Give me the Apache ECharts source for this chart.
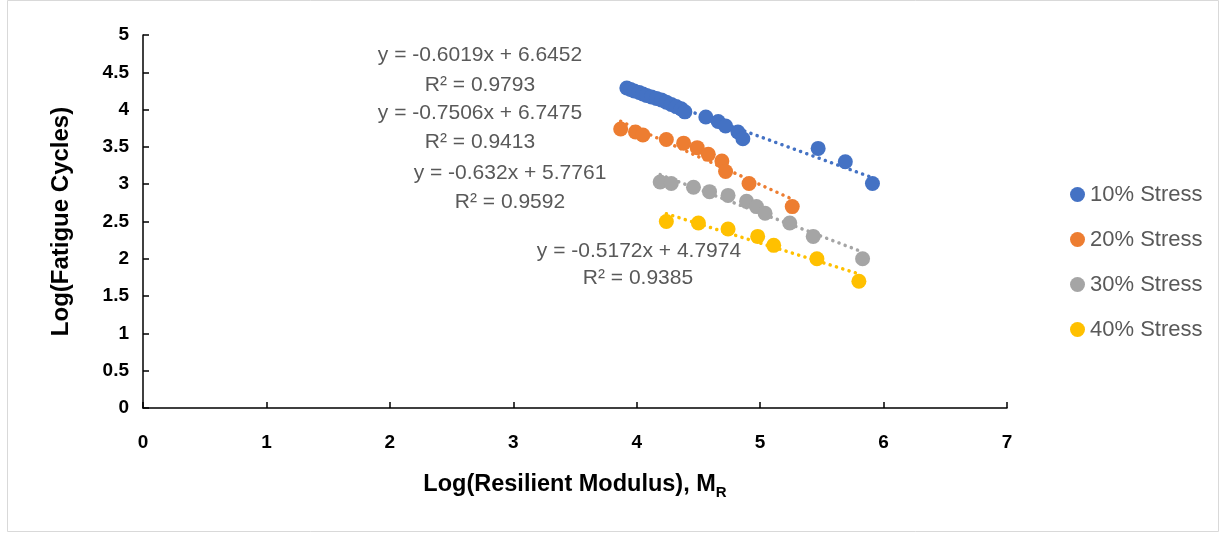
<!DOCTYPE html>
<html><head><meta charset="utf-8">
<script src="https://cdn.jsdelivr.net/npm/echarts@6/dist/echarts.min.js"></script>
<style>html,body{margin:0;padding:0;background:#fff}#c{width:1220px;height:533px}</style>
</head><body><div id="c"></div>
<script>
const seriesNames = ['10% Stress', '20% Stress', '30% Stress', '40% Stress'];
const colors = ['#4472C4', '#ED7D31', '#A5A5A5', '#FFC000'];

const x10 = [3.92, 3.95, 3.98, 4.02, 4.05, 4.08, 4.12, 4.16, 4.20, 4.24, 4.28, 4.32, 4.36, 4.39, 4.56, 4.66, 4.72, 4.82, 4.86, 5.47, 5.69, 5.91];
const y10 = [4.29, 4.27, 4.25, 4.23, 4.21, 4.19, 4.17, 4.15, 4.13, 4.10, 4.07, 4.04, 4.01, 3.97, 3.90, 3.84, 3.78, 3.70, 3.61, 3.48, 3.30, 3.01];

const x20 = [3.87, 3.99, 4.05, 4.24, 4.38, 4.49, 4.58, 4.69, 4.72, 4.91, 5.26];
const y20 = [3.74, 3.70, 3.66, 3.60, 3.55, 3.49, 3.40, 3.31, 3.17, 3.01, 2.70];

const x30 = [4.19, 4.28, 4.46, 4.59, 4.74, 4.89, 4.97, 5.04, 5.24, 5.43, 5.83];
const y30 = [3.03, 3.01, 2.96, 2.90, 2.85, 2.77, 2.70, 2.61, 2.48, 2.30, 2.00];

const x40 = [4.24, 4.50, 4.74, 4.98, 5.11, 5.46, 5.80];
const y40 = [2.50, 2.48, 2.40, 2.30, 2.18, 2.00, 1.70];

const slopes = [-0.6019, -0.7506, -0.632, -0.5172];
const intercepts = [6.6452, 6.7475, 5.7761, 4.7974];
const r2 = ['0.9793', '0.9413', '0.9592', '0.9385'];
const eqText = ['y = -0.6019x + 6.6452', 'y = -0.7506x + 6.7475', 'y = -0.632x + 5.7761', 'y = -0.5172x + 4.7974'];

const yTicks = [0, 0.5, 1, 1.5, 2, 2.5, 3, 3.5, 4, 4.5, 5];
const xTicks = [0, 1, 2, 3, 4, 5, 6, 7];

const xs = [x10, x20, x30, x40];
const ys = [y10, y20, y30, y40];

const FONT = '"Liberation Sans", "DejaVu Sans", sans-serif';
const series = [];
seriesNames.forEach((n, i) => {
  const pts = xs[i].map((x, k) => [x, ys[i][k]]);
  series.push({
    name: n, type: 'scatter', data: pts, symbolSize: 15,
    itemStyle: { color: colors[i], opacity: 1 }, z: 3
  });
  const xmin = Math.min(...xs[i]), xmax = Math.max(...xs[i]);
  series.push({
    name: n + ' trend', type: 'line', showSymbol: false, silent: true,
    data: [[xmin, slopes[i] * xmin + intercepts[i]], [xmax, slopes[i] * xmax + intercepts[i]]],
    lineStyle: { color: colors[i], width: 3.5, type: [0.1, 6.5], cap: 'round' }, z: 2
  });
});

// Equation labels (positions in pixels; text built from arrays)
const labelPos = [[480, 55, 480, 85], [480, 113, 480, 142], [510, 173, 510, 202], [639, 251, 638, 278]];
const graphics = [{
  type: 'rect', shape: { x: 7.5, y: 0.5, width: 1211, height: 531 },
  style: { fill: 'none', stroke: '#d9d9d9', lineWidth: 1 }, silent: true
}];
labelPos.forEach((p, i) => {
  graphics.push({ type: 'text', x: p[0], y: p[1], style: { text: eqText[i], font: '21px ' + FONT, fill: '#595959', textAlign: 'center', textVerticalAlign: 'middle' } });
  graphics.push({ type: 'text', x: p[2], y: p[3], style: { text: 'R² = ' + r2[i], font: '21px ' + FONT, fill: '#595959', textAlign: 'center', textVerticalAlign: 'middle' } });
});

const chart = echarts.init(document.getElementById('c'), null, { renderer: 'canvas' });
chart.setOption({
  animation: false,
  backgroundColor: '#fff',
  grid: { left: 143, right: 213, top: 35, bottom: 125 },
  legend: {
    data: seriesNames, orient: 'vertical', left: 1065, top: 178, itemGap: 22,
    icon: 'circle', itemWidth: 15, itemHeight: 15,
    textStyle: { fontSize: 22, color: '#595959', fontFamily: FONT, lineHeight: 23 }
  },
  xAxis: {
    type: 'value', min: 0, max: 7, interval: 1,
    name: 'Log(Resilient Modulus), {b|M}{s|R}', nameLocation: 'middle', nameGap: 62,
    nameTextStyle: { fontSize: 23.5, fontWeight: 'bold', color: '#000', fontFamily: FONT,
      rich: { b: { fontSize: 23.5, fontWeight: 'bold', color: '#000', fontFamily: FONT },
              s: { fontSize: 15, fontWeight: 'bold', color: '#000', fontFamily: FONT, verticalAlign: 'bottom', padding: [15, 0, 0, 0] } } },
    axisLine: { lineStyle: { color: '#000', width: 1.5 } },
    axisTick: { inside: true, length: 6, lineStyle: { color: '#000', width: 1.5 } },
    axisLabel: { fontSize: 19, fontWeight: 'bold', color: '#000', margin: 25, fontFamily: FONT,
      formatter: v => xTicks.includes(v) ? String(v) : '' },
    splitLine: { show: false }
  },
  yAxis: {
    type: 'value', min: 0, max: 5, interval: 0.5,
    name: 'Log(Fatigue Cycles)', nameLocation: 'middle', nameGap: 70,
    nameTextStyle: { fontSize: 24, fontWeight: 'bold', color: '#000', fontFamily: FONT },
    axisLine: { show: true, lineStyle: { color: '#000', width: 1.5 } },
    axisTick: { show: true, inside: true, length: 6, lineStyle: { color: '#000', width: 1.5 } },
    axisLabel: { fontSize: 19, fontWeight: 'bold', color: '#000', margin: 14, fontFamily: FONT,
      formatter: v => yTicks.includes(v) ? String(v) : '' },
    splitLine: { show: false }
  },
  graphic: graphics,
  series: series
});
</script></body></html>
